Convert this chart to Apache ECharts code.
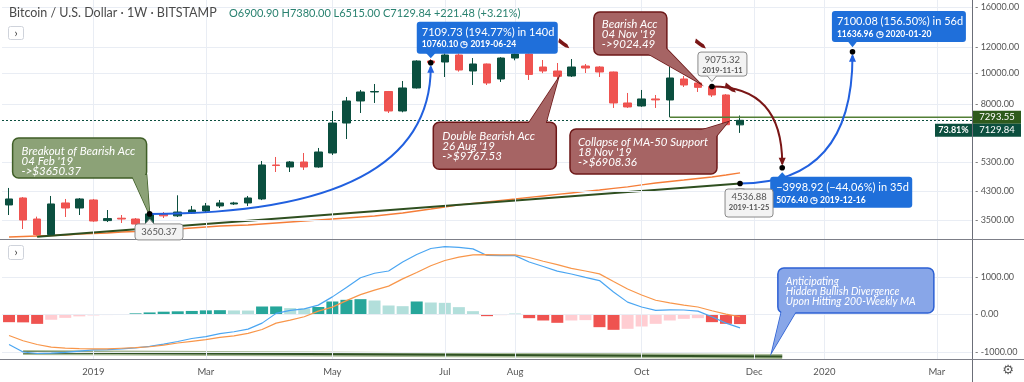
<!DOCTYPE html>
<html>
<head>
<meta charset="utf-8">
<title>Bitcoin / U.S. Dollar 1W</title>
<script src="https://cdn.jsdelivr.net/npm/echarts@6/dist/echarts.min.js"></script>
<style>
html,body{margin:0;padding:0;background:#ffffff;}
#chart{width:1024px;height:382px;}
</style>
</head>
<body>
<div id="chart"></div>
<script>
// ================= DATA =================
const weeks = ['2018-11-26','2018-12-03','2018-12-10','2018-12-17','2018-12-24','2018-12-31',
'2019-01-07','2019-01-14','2019-01-21','2019-01-28','2019-02-04','2019-02-11','2019-02-18','2019-02-25',
'2019-03-04','2019-03-11','2019-03-18','2019-03-25','2019-04-01','2019-04-08','2019-04-15','2019-04-22',
'2019-04-29','2019-05-06','2019-05-13','2019-05-20','2019-05-27','2019-06-03','2019-06-10','2019-06-17',
'2019-06-24','2019-07-01','2019-07-08','2019-07-15','2019-07-22','2019-07-29','2019-08-05','2019-08-12',
'2019-08-19','2019-08-26','2019-09-02','2019-09-09','2019-09-16','2019-09-23','2019-09-30','2019-10-07',
'2019-10-14','2019-10-21','2019-10-28','2019-11-04','2019-11-11','2019-11-18','2019-11-25','2019-12-02',
'2019-12-09','2019-12-16','2019-12-23','2019-12-30','2020-01-06','2020-01-13','2020-01-20','2020-01-27',
'2020-02-03','2020-02-10','2020-02-17','2020-02-24','2020-03-02','2020-03-09','2020-03-16'];

const candleOpen = [3892,4091,3520,3150,3948,3808,4033,3480,3540,3520,3396,3648,3600,3674,3727,3864,3920,3948,4062,5180,5106,5292,5106,5644,6993,8187,8731,8760,7621,8984,10896,10818,11373,10144,10666,9581,11131,11455,10438,10144,9788,10513,10438,10072,8071,7900,8306,8246,9581,9310,9075.32,8546,6900.90];
const candleClose = [4062,3495,3150,3920,3808,4062,3470,3530,3520,3396,3650.37,3600,3700,3754,3864,3948,3948,4091,5180,5160,5292,5106,5684,6993,8187,8731,8760,7621,8984,10896,10760.10,11373,10217,10666,9310,11131,11455,9900,10144,9767.53,10438,10363,10072,8071,7844,8306,8250,9649,9178,9024.49,8546,6908.36,7129.84];
const candleLow = [3622,3277,3122,3140,3571,3622,3450,3445,3421,3370,3380,3545,3571,3650,3674,3808,3892,3864,4030,4926,4926,4998,5080,5564,6237,7513,8071,7513,7550,8950,10600,9718,10100,9178,9178,9378,10950,9513,9990,9513,9718,10000,9718,7788,7788,7850,7788,7293.55,9048,8731,8425,6845,6515];
const candleHigh = [4395,4120,3580,4150,4062,4090,4062,3754,3622,3545,3670,3700,4170,3864,3948,4033,3980,4150,5330,5485,5330,5644,5850,7621,8425,8857,9244,8794,9445,10950,11050,11500,11500,11131,10700,11200,11500,11500,10974,10741,11052,10666,10500,10100,8669,8857,8546,10438,9788,9445,9100,8600,7380];

const maLine = [3095,3106,3117,3128,3140,3162,3173,3185,3208,3219,3231,3254,3277,3301,3324,3348,3360,3372,3396,3421,3445,3470,3495,3520,3545,3571,3596,3635,3674,3727,3781,3836,3892,3934,3977,4019,4062,4106,4150,4195,4240,4286,4332,4379,4426,4490,4554,4603,4652,4703,4754,4822,4892];

const macdLine = [-800,-1000,-1040,-1030,-1010,-975,-945,-935,-915,-890,-850,-790,-720,-640,-590,-510,-460,-390,-230,30,110,150,250,470,720,980,1100,1160,1400,1600,1760,1810,1790,1750,1575,1570,1570,1400,1280,1155,1080,990,905,600,330,200,110,125,120,90,-60,-230,-355];
const signalLine = [-560,-700,-800,-870,-895,-910,-918,-915,-900,-885,-860,-815,-760,-715,-670,-610,-570,-505,-400,-230,-150,-60,90,196,370,530,650,756,950,1120,1300,1440,1530,1590,1595,1590,1590,1520,1420,1330,1230,1160,1084,880,680,520,380,310,250,200,100,10,-60];
const macdHist = [-205,-210,-250,-140,-90,-50,-25,-15,5,30,55,75,85,95,110,115,108,105,213,215,170,160,200,347,391,409,373,240,222,347,320,311,196,89,-44,-18,18,-98,-160,-222,-160,-150,-338,-409,-382,-320,-249,-160,-116,-98,-204,-249,-255];

const priceTicks = [16000, 12000, 10000, 8000, 5300, 4300, 3500];
const macdTicks = [1000, 0, -1000];
const xTickDates = ['2019-01-07','2019-03-04','2019-05-06','2019-07-01','2019-08-05','2019-10-07','2019-12-02','2020-01-06','2020-03-02'];
const xTickNames = ['2019','Mar','May','Jul','Aug','Oct','Dec','2020','Mar'];

const trendMain = [[2, 3100], [52, 4536.88]];
const trendMacd = [[1, -1013], [55, -1120]];
const supportPoint = [47, 7293.55];
const lastPoint = [52, 7129.84];

const ptBreakout = [10, 3650.37];
const ptJune = [30, 10760.10];
const ptAug = [39, 9767.53];
const ptNov4 = [49, 9024.49];
const ptNov11 = [50, 9075.32];
const ptNov18 = [51, 6908.36];
const ptNov25 = [52, 4536.88];
const ptDec16 = [55, 5076.40];
const ptJan20 = [60, 11636.96];
const ptMacdNote = [54, -1000];

// ================= STYLE =================
const FONT = 'Lato, "Noto Sans", sans-serif';
const UP = '#0b4f3f', DOWN = '#ef5350';
const GRIDC = '#e9edf4';
const AXT = '#555555';

const candleData = candleOpen.map((o, i) => [o, candleClose[i], candleLow[i], candleHigh[i]]);
const histData = macdHist.map((v, i) => {
  const prev = i > 0 ? macdHist[i - 1] : v;
  let c;
  if (v >= 0) c = (v >= prev) ? '#26a69a' : '#b2dfdb';
  else c = (v <= prev) ? '#ef5350' : '#ffcdd2';
  return { value: v, itemStyle: { color: c } };
});

const gridMarkLabel = {
  show: true, position: 'end', distance: 3, color: AXT, fontSize: 9, fontFamily: FONT,
  formatter: p => '- ' + Number(p.value).toFixed(2)
};

const option = {
  animation: false,
  backgroundColor: '#ffffff',
  grid: [
    { left: 2, right: 52, top: 0, height: 239 },
    { left: 2, right: 52, top: 240, height: 119 }
  ],
  xAxis: [
    { type: 'category', gridIndex: 0, data: weeks, boundaryGap: true,
      axisLine: { show: false }, axisTick: { show: false }, axisLabel: { show: false }, splitLine: { show: false } },
    { type: 'category', gridIndex: 1, data: weeks, boundaryGap: true,
      axisLine: { show: false }, axisTick: { show: false }, splitLine: { show: false },
      axisLabel: { interval: (i, v) => xTickDates.indexOf(v) >= 0,
        formatter: v => { const k = xTickDates.indexOf(v); return k >= 0 ? xTickNames[k] : ''; },
        color: AXT, fontSize: 9.5, fontFamily: FONT, margin: 8 } }
  ],
  yAxis: [
    { type: 'log', logBase: 10, gridIndex: 0, position: 'right', min: 3051, max: 16855,
      axisLine: { show: false }, axisTick: { show: false }, axisLabel: { show: false }, splitLine: { show: false } },
    { type: 'value', gridIndex: 1, position: 'right', min: -1187, max: 1987,
      axisLine: { show: false }, axisTick: { show: false }, axisLabel: { show: false }, splitLine: { show: false } }
  ],
  series: [
    { // grid lines + price labels, main panel
      type: 'line', xAxisIndex: 0, yAxisIndex: 0, data: [], z: 0, silent: true,
      markLine: { silent: true, symbol: ['none', 'none'], animation: false,
        lineStyle: { color: GRIDC, width: 1, type: 'solid' }, label: gridMarkLabel,
        data: priceTicks.map(v => ({ yAxis: v })).concat(xTickDates.map(d => ({ xAxis: d, label: { show: false } }))) }
    },
    { // grid lines + labels, MACD panel
      type: 'line', xAxisIndex: 1, yAxisIndex: 1, data: [], z: 0, silent: true,
      markLine: { silent: true, symbol: ['none', 'none'], animation: false,
        lineStyle: { color: GRIDC, width: 1, type: 'solid' }, label: gridMarkLabel,
        data: macdTicks.map(v => ({ yAxis: v })).concat(xTickDates.map(d => ({ xAxis: d, label: { show: false } }))) }
    },
    { type: 'line', name: 'MA', xAxisIndex: 0, yAxisIndex: 0, data: maLine, symbol: 'none', z: 3,
      lineStyle: { color: '#f57d38', width: 1.3 } },
    { type: 'line', name: 'trend', xAxisIndex: 0, yAxisIndex: 0, data: trendMain, symbol: 'none', z: 4,
      lineStyle: { color: '#2f4f20', width: 2 } },
    { type: 'candlestick', name: 'BTCUSD', xAxisIndex: 0, yAxisIndex: 0, data: candleData, barWidth: 8, z: 5,
      itemStyle: { color: UP, color0: DOWN, borderColor: UP, borderColor0: DOWN, borderWidth: 1 },
      markLine: { silent: true, symbol: ['none', 'none'], animation: false, label: { show: false },
        data: [{ yAxis: lastPoint[1], lineStyle: { color: UP, type: [2, 2], width: 1 } }] } },
    { type: 'bar', name: 'hist', xAxisIndex: 1, yAxisIndex: 1, data: histData, barWidth: 12, z: 2 },
    { type: 'line', name: 'trendMacdGlow', xAxisIndex: 1, yAxisIndex: 1, data: trendMacd, symbol: 'none', z: 3,
      lineStyle: { color: '#a9bb98', width: 5 } },
    { type: 'line', name: 'trendMacd', xAxisIndex: 1, yAxisIndex: 1, data: trendMacd, symbol: 'none', z: 4,
      lineStyle: { color: '#2f5223', width: 2.2 } },
    { type: 'line', name: 'MACD', xAxisIndex: 1, yAxisIndex: 1, data: macdLine, symbol: 'none', z: 5,
      lineStyle: { color: '#4ba6f2', width: 1.2 } },
    { type: 'line', name: 'Signal', xAxisIndex: 1, yAxisIndex: 1, data: signalLine, symbol: 'none', z: 5,
      lineStyle: { color: '#f8964a', width: 1.2 } }
  ]
};

const chart = echarts.init(document.getElementById('chart'), null, { width: 1024, height: 382 });
chart.setOption(option);

// ================= ANNOTATIONS (anchored through the axes) =================
function px(p, g) {
  return chart.convertToPixel(g ? { xAxisIndex: 1, yAxisIndex: 1 } : { xAxisIndex: 0, yAxisIndex: 0 }, p);
}
const G = [];
function R(x, y, w, h, fill, stroke, lw, r, z) {
  return { type: 'rect', z: z || 100, shape: { x, y, width: w, height: h, r: r || 0 }, style: { fill, stroke: stroke || null, lineWidth: lw || 0 } };
}
function PG(points, fill, stroke, lw, z) {
  return { type: 'polygon', z: z || 100, shape: { points }, style: { fill, stroke: stroke || null, lineWidth: lw || 0 } };
}
function TX(x, y, str, font, fill, z, align, va, lh) {
  const s = { x, y, text: str, font, fill, textAlign: align || 'left', align: align || 'left',
    textVerticalAlign: va || 'middle', verticalAlign: va || 'middle' };
  if (lh) s.lineHeight = lh;
  return { type: 'text', z: z || 110, style: s };
}
function LN(x1, y1, x2, y2, stroke, lw, z, dash) {
  const st = { stroke, lineWidth: lw };
  if (dash) st.lineDash = dash;
  return { type: 'line', z: z || 60, shape: { x1, y1, x2, y2 }, style: st };
}

// Frame
const RIGHT = 972.5;
G.push(LN(RIGHT, 0, RIGHT, 382, '#6b6e78', 1, 70));
G.push(LN(0, 239.5, 1024, 239.5, '#7d7f88', 1, 70));
G.push(LN(0, 359.5, 1024, 359.5, '#7d7f88', 1, 70));

// Support ray and price tags
const sp = px(supportPoint);
G.push(LN(sp[0], sp[1], RIGHT, sp[1], '#527f35', 1.5, 8));
G.push(R(973, sp[1] - 6.5, 48, 13, '#2e5a1c', null, 0, 0, 120));
G.push(TX(997, sp[1], supportPoint[1].toFixed(2), '9.5px ' + FONT, '#ffffff', 121, 'center'));
const lp = px(lastPoint);
G.push(R(973, lp[1] + 3.5, 48, 13, '#0c4f3e', null, 0, 0, 120));
G.push(TX(997, lp[1] + 10, lastPoint[1].toFixed(2), '9.5px ' + FONT, '#ffffff', 121, 'center'));
G.push(R(935, lp[1] + 3.5, 37, 13, '#0c4f3e', null, 0, 0, 120));
G.push(TX(953.5, lp[1] + 10, '73.81%', 'bold 9px ' + FONT, '#ffffff', 121, 'center'));

// Curved arrows
function curve(a, b, color, up) {
  const p1 = px(a), p2 = px(b);
  const endY = up ? p2[1] + 4 : p2[1] - 4;
  G.push({ type: 'bezierCurve', z: 90, shape: { x1: p1[0], y1: p1[1], x2: p2[0], y2: endY, cpx1: p2[0], cpy1: p1[1] },
    style: { stroke: color, lineWidth: 2, fill: null } });
  const tipY = up ? p2[1] + 2 : p2[1] - 2;
  const baseY = up ? p2[1] + 10 : p2[1] - 10;
  G.push(PG([[p2[0], tipY], [p2[0] - 3.5, baseY], [p2[0] + 3.5, baseY]], color, null, 0, 91));
}
curve(ptBreakout, ptJune, '#2160df', true);
curve(ptNov25, ptJan20, '#2160df', true);
curve(ptNov11, ptDec16, '#7a1616', false);

// Maroon markers
function marker(p, dx, dy) {
  const a = px(p); const x = a[0] + dx, y = a[1] + dy;
  G.push(PG([[x - 4, y - 5], [x + 1, y - 1], [x + 4, y + 1], [x + 6, y + 5], [x + 2, y + 4], [x - 1, y + 2], [x - 5, y - 1]], '#7a1616', null, 0, 96));
}
marker(ptAug, 6, -33);
marker(ptNov11, -12, -43);
marker(ptNov11, 18, 1);

// Callouts
function callout(p, g, box, tail, txt, txtPos, fill, stroke, font) {
  const a = px(p, g);
  const pts = tail.map(t => [a[0] + t[0], a[1] + t[1]]);
  G.push(PG(pts, fill, stroke, 1.5, 100));
  G.push(R(a[0] + box[0], a[1] + box[1], box[2], box[3], fill, stroke, 1.5, 6, 101));
  G.push(PG(pts, fill, null, 0, 102));
  G.push(TX(a[0] + txtPos[0], a[1] + txtPos[1], txt, font || ('italic 11.5px ' + FONT), '#ffffff', 103, 'left', 'top', 10));
}
const GREEN_F = '#8ca277', GREEN_S = '#3f5e27';
const MAR_F = '#a66464', MAR_S = '#6d1818';
callout(ptBreakout, 0, [-137, -76, 134, 40], [[-18, -39], [-3, -39], [0, 1]],
  "Breakout of Bearish Acc\n04 Feb '19\n->$3650.37", [-128, -68], GREEN_F, GREEN_S);
callout(ptAug, 0, [-124, 46, 123, 47], [[-30, 49], [-12, 49], [1, 2]],
  "Double Bearish Acc\n26 Aug '19\n->$9767.53", [-115, 55], MAR_F, MAR_S);
callout(ptNov4, 0, [-104, -75.4, 73, 43], [[-53, -35.4], [-34, -41.4], [2, -4]],
  "Bearish Acc\n04 Nov '19\n->9024.49", [-96, -68.4], MAR_F, MAR_S);
callout(ptNov18, 0, [-156, 4.3, 147, 45], [[-31, 7.3], [-12, 14.3], [2, -2.7]],
  "Collapse of MA-50 Support\n18 Nov '19\n->$6908.36", [-148, 12.3], MAR_F, MAR_S);
callout(ptMacdNote, 1, [9.7, -84, 156, 45], [[13.7, -42], [28.7, -42], [3.7, 0]],
  "Anticipating\nHidden Bullish Divergence\nUpon Hitting 200-Weekly MA", [17.7, -75], '#88a6e8', '#2c60d4', 'italic 10.5px ' + FONT);

// Blue measure labels
function blueLabel(p, box, down, l1, l2, tx) {
  const a = px(p);
  const bx = a[0] + box[0], by = a[1] + box[1];
  G.push(R(bx, by, box[2], box[3], '#1f6fda', null, 0, 3, 104));
  if (down) {
    const yb = by + box[3] - 1;
    G.push(PG([[a[0] - 5, yb], [a[0] + 5, yb], [a[0], a[1] - 4.5]], '#1f6fda', null, 0, 104));
  } else {
    const yt = by + 1;
    G.push(PG([[a[0] - 5, yt], [a[0] + 5, yt], [a[0], a[1] + 4.5]], '#1f6fda', null, 0, 104));
  }
  G.push(TX(bx + tx, by + 10.5, l1, '11px ' + FONT, '#ffffff', 105));
  G.push(TX(bx + tx, by + 23, l2, 'bold 8.5px ' + FONT, '#ffffff', 105));
}
blueLabel(ptJune, [-14, -41, 141, 32], true, '7109.73 (194.77%) in 140d', '10760.10 \u25F7 2019-06-24', 5);
blueLabel(ptDec16, [-12, 9, 142, 31], false, '\u22123998.92 (\u221244.06%) in 35d', '5076.40 \u25F7 2019-12-16', 6);
blueLabel(ptJan20, [-20.6, -40.8, 134, 31], true, '7100.08 (156.50%) in 56d', '11636.96 \u25F7 2020-01-20', 5);

// Gray price notes
function grayNote(p, box, down, l1, l2) {
  const a = px(p);
  const bx = a[0] + box[0], by = a[1] + box[1];
  G.push(R(bx, by, box[2], box[3], '#f3f3f3', '#8a8a8a', 1, 3, 106));
  if (down) {
    const yb = by + box[3];
    G.push(PG([[a[0] - 4.5, yb - 0.5], [a[0] + 4.5, yb - 0.5], [a[0], a[1] - 5]], '#f3f3f3', null, 0, 107));
    G.push({ type: 'polyline', z: 107, shape: { points: [[a[0] - 4.5, yb], [a[0], a[1] - 5], [a[0] + 4.5, yb]] }, style: { stroke: '#8a8a8a', lineWidth: 1, fill: null } });
  } else {
    G.push(PG([[a[0] - 4.5, by + 0.5], [a[0] + 4.5, by + 0.5], [a[0], a[1] + 5]], '#f3f3f3', null, 0, 107));
    G.push({ type: 'polyline', z: 107, shape: { points: [[a[0] - 4.5, by], [a[0], a[1] + 5], [a[0] + 4.5, by]] }, style: { stroke: '#8a8a8a', lineWidth: 1, fill: null } });
  }
  const cx = bx + box[2] / 2;
  if (l2) {
    G.push(TX(cx, by + 7.5, l1, '9.5px ' + FONT, '#555555', 108, 'center'));
    G.push(TX(cx, by + 18.5, l2, 'bold 7.5px ' + FONT, '#555555', 108, 'center'));
  } else {
    G.push(TX(cx, by + box[3] / 2, l1, '9.5px ' + FONT, '#555555', 108, 'center'));
  }
}
grayNote(ptBreakout, [-14.6, 10, 48, 16], false, '3650.37');
grayNote(ptNov11, [-14, -34.5, 49, 24], true, '9075.32', '2019-11-11');
grayNote(ptNov25, [-15, 5.5, 48, 28], false, '4536.88', '2019-11-25');

// Dots on anchors
[ptBreakout, ptJune, ptNov11, ptNov25, ptDec16, ptJan20].forEach(p => {
  const a = px(p);
  G.push({ type: 'circle', z: 112, shape: { cx: a[0], cy: a[1], r: 2.8 }, style: { fill: '#000000' } });
});

// Header legend
G.push(TX(9, 13, 'Bitcoin / U.S. Dollar \u00B7 1W \u00B7 BITSTAMP', '12.5px ' + FONT, '#4a4a4a', 130));
G.push(TX(229, 13, 'O6900.90 H7380.00 L6515.00 C7129.84 +221.48 (+3.21%)', '11px ' + FONT, '#2a8270', 130));

// Collapse buttons and settings icon
G.push(R(8.5, 26.5, 15, 13, '#ffffff', '#cfd3db', 1, 2, 130));
G.push(TX(16, 33, '\u203A', '11px ' + FONT, '#333333', 131, 'center'));
G.push(R(8.5, 245.5, 15, 14, '#ffffff', '#cfd3db', 1, 2, 130));
G.push(TX(16, 252.5, '\u203A', '11px ' + FONT, '#333333', 131, 'center'));
G.push(TX(1008, 371, '\u2699', '13px "DejaVu Sans"', '#555555', 131, 'center'));

chart.setOption({ graphic: { elements: G } });
</script>
</body>
</html>
